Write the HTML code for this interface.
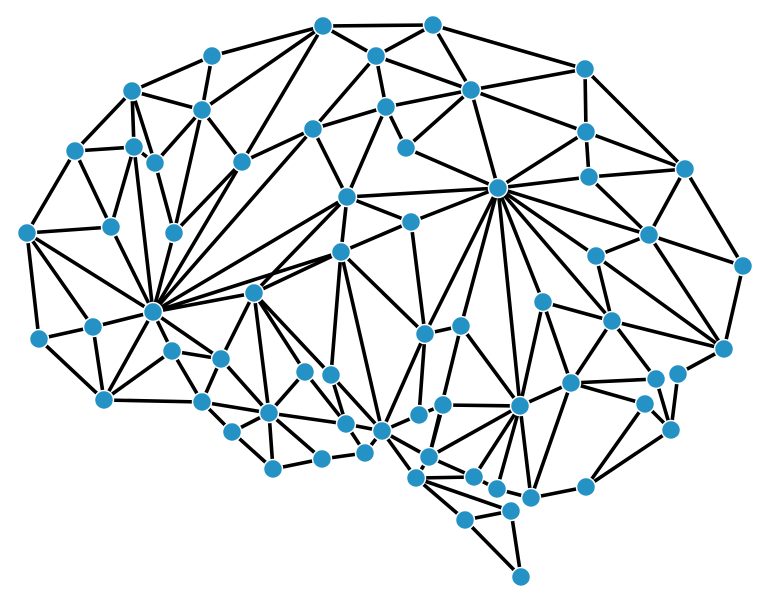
<!DOCTYPE html>
<html><head><meta charset="utf-8">
<style>html,body{margin:0;padding:0;background:#fff;}svg{display:block;}</style>
</head><body>
<svg id="chart" width="770" height="603" viewBox="0 0 770 603" xmlns="http://www.w3.org/2000/svg">
<g id="edges"></g>
<g id="nodes"></g>
</svg>
<script>
const nodeX = [0,323,433,212,376,585,132,471,202,386,313,586,75,134,155,242,406,685,589,498,347,27,111,174,411,649,341,596,743,254,153,543,93,39,425,461,612,724,172,221,305,331,571,656,678,104,202,269,419,443,520,645,232,346,382,671,429,365,322,273,416,474,497,531,586,511,465,521];
const nodeY = [0,26,25,56,56,69,91,90,110,107,129,132,151,147,163,162,148,169,177,188,197,233,227,233,222,235,252,256,266,293,312,302,327,339,334,326,321,349,351,359,372,375,383,379,374,400,402,413,415,405,406,404,432,424,431,430,457,453,459,469,478,477,489,498,487,511,520,577];
const edges = [
[1,2],[1,4],[2,4],[2,7],[2,5],[4,7],[4,9],[4,10],[7,5],[7,11],[7,16],[7,19],[9,7],[9,16],[9,20],[10,9],[10,20],[10,15],[10,30],
[3,1],[3,6],[3,8],[6,8],[6,12],[6,13],[6,14],[8,14],[8,23],[8,15],[8,1],[12,13],[12,22],[12,21],[13,14],[13,22],[13,30],[14,23],[15,23],[15,1],[15,30],
[16,19],[20,19],[20,24],[24,19],[24,34],[20,26],[26,24],[20,30],[20,29],
[5,11],[5,17],[11,19],[11,18],[11,17],[18,19],[18,17],[18,25],[17,25],[17,28],[25,27],[25,28],[25,37],[27,36],[27,37],[28,37],[31,36],[36,37],
[19,25],[19,27],[19,36],[19,31],[19,50],[19,34],[19,35],
[36,42],[36,43],[37,44],[44,55],[43,55],[42,43],[42,51],[42,50],[42,63],[51,64],[55,64],[51,55],[63,64],[31,42],[31,50],
[21,33],[21,32],[21,30],[21,22],[22,30],[23,30],[33,32],[33,45],[32,30],[32,45],[30,45],[30,38],[30,39],[30,29],[38,39],[38,45],[38,46],[39,46],[39,29],[39,47],[45,46],[46,47],[46,52],[52,47],[52,59],[47,59],[29,47],[29,40],[29,41],[29,26],[26,30],
[26,41],[26,54],[26,34],[40,47],[40,53],[41,53],[41,54],[47,53],[47,58],[58,59],[58,57],[53,57],[53,54],[57,54],[54,34],[54,48],[54,56],[54,60],[34,35],[34,48],[35,56],[35,50],[48,49],[49,50],[49,56],[50,56],[50,61],[50,62],[50,63],[56,61],[60,61],[60,65],[60,66],[60,56],[61,62],[62,63],[66,65],[65,67],[66,67]
];

const eg = document.getElementById('edges');
const ng = document.getElementById('nodes');
const NS = 'http://www.w3.org/2000/svg';
for (const [a, b] of edges) {
  const l = document.createElementNS(NS, 'line');
  l.setAttribute('x1', nodeX[a]); l.setAttribute('y1', nodeY[a]);
  l.setAttribute('x2', nodeX[b]); l.setAttribute('y2', nodeY[b]);
  l.setAttribute('stroke', '#000'); l.setAttribute('stroke-width', '3.6');
  
  
  eg.appendChild(l);
}
for (let i = 1; i < nodeX.length; i++) {
  const c = document.createElementNS(NS, 'circle');
  c.setAttribute('cx', nodeX[i]); c.setAttribute('cy', nodeY[i]); c.setAttribute('r', '9.5');
  c.setAttribute('fill', '#2592c6'); c.setAttribute('stroke', '#fff'); c.setAttribute('stroke-width', '1.5');
  
  
  ng.appendChild(c);
}
</script>
</body></html>
